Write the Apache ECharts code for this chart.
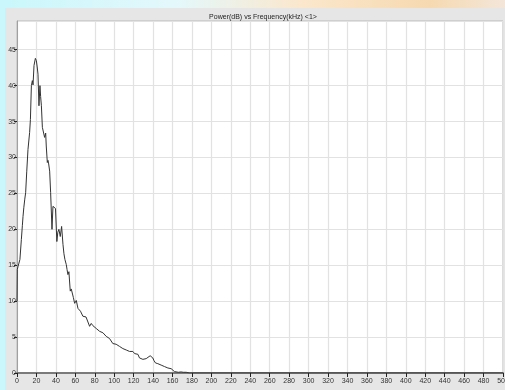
<!DOCTYPE html>
<html>
<head>
<meta charset="utf-8">
<script src="https://cdn.jsdelivr.net/npm/echarts@6/dist/echarts.min.js"></script>
<style>
  html, body { margin: 0; padding: 0; }
  body {
    width: 505px; height: 390px; overflow: hidden;
    background: linear-gradient(to right, #c9f7fb 0%, #e4f8fb 35%, #fbe7cc 60%, #f6d9b0 85%, #f3e6da 100%);
  }
  #chart { position: absolute; left: 0; top: 0; width: 505px; height: 390px; }
</style>
</head>
<body>
<div id="chart"></div>
<script>
// Spectrum: power (dB) against frequency (kHz)
const chartTitle = 'Power(dB) vs Frequency(kHz) <1>';

const freq = [
  0, 0.3, 1, 2, 3, 4.5, 5.5, 6.2, 7, 8,
  8.9, 10, 11.3, 12, 13, 13.8, 14.8, 15.8, 16.5, 17.5,
  18.9, 19.9, 20.8, 21.6, 22.6, 23.6, 24.3, 25.1, 26.1, 27.5,
  28.4, 29.5, 30.1, 31.2, 31.9, 32.6, 33.6, 34.6, 36, 37,
  38.1, 39.6, 41, 42, 43.1, 44.5, 45.9, 47.3, 48.3, 49.3,
  50.7, 51.5, 52.4, 53.4, 54.8, 55.8, 56.9, 58, 59.3, 61,
  62.7, 64, 65.3, 66.5, 67.8, 69.5, 71, 72.9, 74.7, 76.4,
  78, 79.8, 81.5, 83, 85, 86.7, 88.4, 90, 91.8, 93.5,
  95.2, 97, 98.6, 100.3, 102, 103.7, 105.5, 107.2, 108.9, 110.6,
  112.4, 114, 115.8, 117.5, 119.2, 121, 122.7, 124.4, 126, 127.7,
  129.5, 131.2, 132.9, 134.6, 137, 139.7, 141, 142.5, 144.9, 146.6,
  148.3, 150, 151.7, 153.4, 155.2, 156.9, 158.6, 160.3, 162, 163.7,
  166, 168.8, 171, 174, 177.5, 180, 250, 500
];

const power = [
  10, 14.4, 14.8, 15.3, 15.8, 18.6, 20.5, 21.8, 23, 24.2,
  25.1, 28, 31.1, 31, 33.5, 35.3, 40, 40.7, 40.1, 42.8,
  43.8, 43.5, 42.6, 41.6, 37.2, 40, 38.5, 37.2, 34.2, 34,
  32.8, 33.4, 31.6, 29.3, 29.6, 29.1, 28.1, 25.1, 20, 23.2,
  23, 22.9, 18.3, 19.6, 20, 19, 20.4, 17.9, 16.6, 15.8,
  15.1, 14.4, 13.7, 14.1, 11.4, 11.7, 11.6, 10.5, 9.7, 10.1,
  9, 9.2, 8.6, 8.4, 7.9, 7.7, 7.8, 7.6, 6.5, 6.9,
  6.6, 6.5, 6.2, 6.0, 5.8, 5.9, 5.6, 5.4, 5.1, 5.0,
  4.8, 5.0, 4.1, 4.3, 4.0, 3.9, 3.7, 3.8, 3.4, 3.5,
  3.2, 3.3, 3.0, 3.1, 3.0, 2.7, 2.5, 2.6, 2.1, 2.2,
  1.9, 1.9, 2.0, 2.1, 2.4, 2.1, 1.7, 1.4, 1.3, 1.4,
  1.1, 1.2, 0.9, 0.8, 0.7, 0.9, 0.6, 0.4, 0.2, 0.05,
  0.1, 0.15, 0.1, 0.1, 0, 0, 0, 0
];

const xMin = 0, xMax = 500, xStep = 20;
const yMin = 0, yMax = 49, yStep = 5;

const chart = echarts.init(document.getElementById('chart'), null, { renderer: 'canvas' });

const fontFamily = '"Liberation Sans", Arial, sans-serif';

chart.setOption({
  animation: false,
  backgroundColor: 'transparent',
  graphic: [
    {
      type: 'rect', z: -10, silent: true,
      shape: { x: 5, y: 8, width: 500, height: 382 },
      style: { fill: '#e6e6e6' }
    }
  ],
  title: {
    text: chartTitle,
    left: 258, top: 9, textAlign: 'center',
    textStyle: { fontFamily, fontSize: 7, fontWeight: 'normal', color: '#222' }
  },
  grid: {
    left: 17, right: 2, top: 21, bottom: 17,
    containLabel: false,
    outerBoundsMode: 'none',
    show: true, backgroundColor: '#ffffff', borderColor: '#b8b8b8', borderWidth: 1
  },
  xAxis: {
    type: 'value', min: xMin, max: xMax, interval: xStep,
    axisLine: { show: true, onZero: false, lineStyle: { color: '#7a7a7a', width: 2 } },
    axisTick: { show: true, length: 4, lineStyle: { color: '#222', width: 1 } },
    axisLabel: { fontFamily, fontSize: 7, color: '#333', margin: 5, showMaxLabel: true, hideOverlap: false },
    splitLine: { show: true, lineStyle: { color: '#e2e2e2', width: 1.2 } }
  },
  yAxis: {
    type: 'value', min: yMin, max: yMax, interval: yStep,
    axisLine: { show: true, lineStyle: { color: '#a0a0a0', width: 1 } },
    axisTick: { show: true, length: 3, lineStyle: { color: '#222', width: 1 } },
    axisLabel: { fontFamily, fontSize: 7, color: '#333', margin: 1, showMaxLabel: false },
    splitLine: { show: true, lineStyle: { color: '#e2e2e2', width: 1.2 } }
  },
  series: [
    {
      type: 'line',
      data: freq.map((f, i) => [f, power[i]]),
      showSymbol: false,
      smooth: false,
      lineStyle: { color: '#333333', width: 1 },
      z: 5
    }
  ]
});
</script>
</body>
</html>
